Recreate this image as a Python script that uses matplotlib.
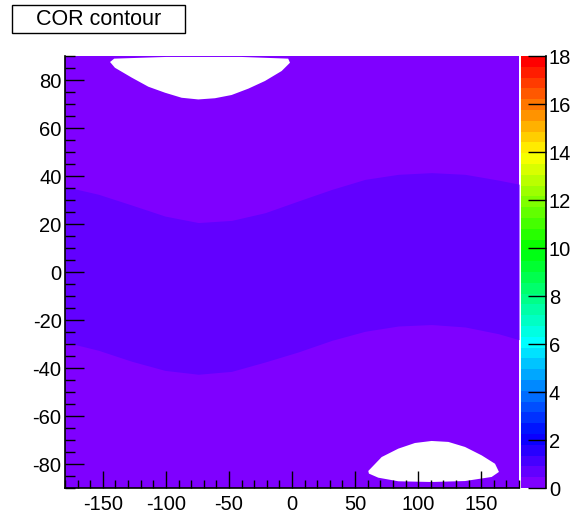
import colorsys
import numpy as np
import matplotlib
matplotlib.use("Agg")
import matplotlib.pyplot as plt
from matplotlib.colors import ListedColormap, BoundaryNorm
from matplotlib.cm import ScalarMappable
from matplotlib.patches import Rectangle
from matplotlib.ticker import MultipleLocator

plt.rcParams['font.family'] = ['Liberation Sans', 'DejaVu Sans']
plt.rcParams['axes.unicode_minus'] = False

# colour scale: 40 contour bands between 0 and 18
z_min, z_max, n_levels = 0, 18, 40
levels = np.linspace(z_min, z_max, n_levels + 1)

# middle band (second contour level)
band_lon = [-180, -153.6, -127.1, -100.7, -74.3, -47.9, -21.4, 5.0, 31.4,
            57.9, 84.3, 110.7, 137.2, 163.6, 180]
band_top = [35.6, 32.4, 27.9, 23.3, 20.6, 21.5, 24.7, 29.6, 34.4,
            38.6, 40.7, 41.4, 40.7, 38.3, 36.6]
band_bot = [-29.2, -32.6, -37.2, -41.0, -42.6, -41.4, -37.5, -33.3, -28.5,
            -24.7, -22.5, -21.9, -22.9, -25.7, -28.2]

# empty (white) region near the north edge, outline
north_lon = [-144.3, -140.4, -127.1, -113.9, -100.7, -87.5, -74.3, -61.1,
             -47.9, -34.6, -21.4, -8.2, -1.6, -3.0, -40.0, -100.0, -141.0]
north_lat = [87.5, 85.1, 81.0, 77.2, 74.7, 72.6, 71.9, 72.4,
             73.75, 76.4, 79.6, 83.75, 87.2, 88.9, 89.6, 89.6, 88.9]

# empty (white) region near the south edge, outline
south_lon = [60.5, 71.1, 84.3, 97.5, 110.7, 124.0, 137.2, 150.4, 161.0, 164.1,
             158.3, 137.2, 110.7, 84.3, 68.4, 61.0]
south_lat = [-82.9, -77.1, -73.6, -71.25, -70.4, -70.8, -72.9, -76.4, -79.9, -83.3,
             -85.4, -87.1, -87.5, -87.2, -85.7, -84.0]


def band_color(i):
    hue = 270.0 * (1 - i / (n_levels - 1)) / 360.0
    return colorsys.hls_to_rgb(hue, 0.5, 1.0)


colors = [band_color(i) for i in range(n_levels)]
cmap = ListedColormap(colors)
norm = BoundaryNorm(levels, n_levels)

fig = plt.figure(figsize=(5.80, 5.17), dpi=100)
ax = fig.add_axes([65 / 580, 1 - 488 / 517, 454 / 580, 432 / 517])
cax = fig.add_axes([521 / 580, 1 - 488 / 517, 25 / 580, 432 / 517])

ax.set_facecolor(colors[0])
ax.fill_between(band_lon, band_bot, band_top, color=colors[1], lw=0)
ax.fill(north_lon, north_lat, color='white', lw=0)
ax.fill(south_lon, south_lat, color='white', lw=0)

ax.set_xlim(-180, 180)
ax.set_ylim(-90, 90)
ax.xaxis.set_major_locator(MultipleLocator(50))
ax.xaxis.set_minor_locator(MultipleLocator(10))
ax.yaxis.set_major_locator(MultipleLocator(20))
ax.yaxis.set_minor_locator(MultipleLocator(5))
ax.tick_params(which='both', direction='in', labelsize=14.5, width=1, color='black')
ax.tick_params(axis='x', which='major', length=12, pad=5)
ax.tick_params(axis='x', which='minor', length=6)
ax.tick_params(axis='y', which='major', length=14, pad=2.5)
ax.tick_params(axis='y', which='minor', length=7)
ax.spines['top'].set_visible(False)
ax.spines['right'].set_visible(False)
for s in ('left', 'bottom'):
    ax.spines[s].set_linewidth(1.2)

cb = fig.colorbar(ScalarMappable(norm=norm, cmap=cmap), cax=cax)
cb.outline.set_visible(False)
cb.set_ticks(np.arange(0, 19, 2))
cb.ax.tick_params(direction='in', length=13, width=1, labelsize=14.5, pad=2)
cb.ax.minorticks_off()
cax.axvline(1, color='black', lw=1.2, clip_on=False)

fig.patches.append(Rectangle((12 / 580, 1 - 33 / 517), 173 / 580, 28 / 517,
                             transform=fig.transFigure, facecolor='white',
                             edgecolor='black', lw=1))
fig.text(98.5 / 580, 1 - 19.5 / 517, 'COR contour', ha='center', va='center', fontsize=15.5)

fig.savefig('out.png', dpi=100)
